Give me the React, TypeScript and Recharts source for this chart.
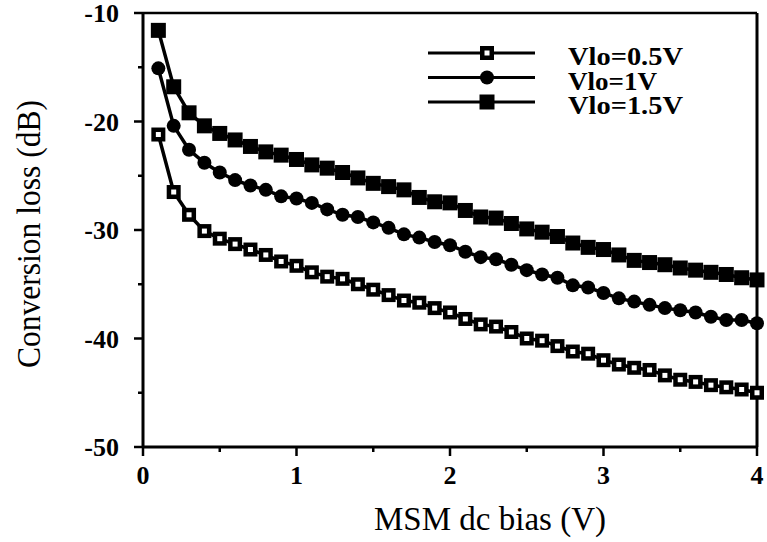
import React from 'react';
import { LineChart, Line, XAxis, YAxis, ReferenceLine, Legend } from 'recharts';

const biasV = [0.1, 0.2, 0.3, 0.4, 0.5, 0.6, 0.7, 0.8, 0.9, 1.0,
  1.1, 1.2, 1.3, 1.4, 1.5, 1.6, 1.7, 1.8, 1.9, 2.0,
  2.1, 2.2, 2.3, 2.4, 2.5, 2.6, 2.7, 2.8, 2.9, 3.0,
  3.1, 3.2, 3.3, 3.4, 3.5, 3.6, 3.7, 3.8, 3.9, 4.0];

const lossVlo05 = [-21.2, -26.5, -28.6, -30.1, -30.8, -31.3, -31.8, -32.3, -32.9, -33.3,
  -33.9, -34.3, -34.5, -35.0, -35.5, -36.0, -36.5, -36.7, -37.2, -37.6,
  -38.2, -38.7, -38.9, -39.4, -40.0, -40.2, -40.7, -41.2, -41.4, -42.0,
  -42.4, -42.7, -42.9, -43.4, -43.8, -44.0, -44.3, -44.5, -44.7, -45.0];

const lossVlo1 = [-15.1, -20.4, -22.6, -23.8, -24.7, -25.4, -25.9, -26.3, -26.9, -27.1,
  -27.5, -28.1, -28.6, -28.8, -29.3, -29.8, -30.4, -30.7, -31.1, -31.4,
  -32.0, -32.5, -32.7, -33.2, -33.7, -34.1, -34.4, -35.1, -35.3, -35.8,
  -36.3, -36.6, -36.9, -37.2, -37.4, -37.6, -38.0, -38.3, -38.3, -38.6];

const lossVlo15 = [-11.6, -16.8, -19.2, -20.4, -21.1, -21.7, -22.3, -22.8, -23.1, -23.5,
  -24.0, -24.3, -24.7, -25.2, -25.7, -26.0, -26.3, -27.0, -27.4, -27.5,
  -28.2, -28.8, -28.9, -29.4, -29.9, -30.2, -30.6, -31.2, -31.6, -31.8,
  -32.3, -32.8, -33.0, -33.2, -33.5, -33.7, -33.9, -34.1, -34.4, -34.6];

const seriesNames = ['Vlo=0.5V', 'Vlo=1V', 'Vlo=1.5V'];
const xTicks = [0, 0.5, 1, 1.5, 2, 2.5, 3, 3.5, 4];
const yTicks = [-50, -45, -40, -35, -30, -25, -20, -15, -10];

const data = biasV.map((v, i) => ({
  bias: v,
  a: lossVlo05[i],
  b: lossVlo1[i],
  c: lossVlo15[i],
}));

const FONT = '"Liberation Serif", "Times New Roman", serif';

const OpenSquare = (props: any) => {
  const { cx, cy } = props;
  if (cx == null || cy == null) return null;
  return (
    <g>
      <rect x={cx - 7} y={cy - 7} width={14} height={14} fill="#000" />
      <rect x={cx - 2.5} y={cy - 2.5} width={5} height={5} fill="#fff" />
    </g>
  );
};
const FilledSquare = (props: any) => {
  const { cx, cy } = props;
  if (cx == null || cy == null) return null;
  return <rect x={cx - 7.5} y={cy - 7.5} width={15} height={15} fill="#000" />;
};
const FilledCircle = (props: any) => {
  const { cx, cy } = props;
  if (cx == null || cy == null) return null;
  return <circle cx={cx} cy={cy} r={7} fill="#000" />;
};

const XTick = (props: any) => {
  const { x, y, payload } = props;
  const v = payload.value;
  const major = Number.isInteger(v);
  return (
    <g>
      <line x1={x} y1={y} x2={x} y2={y + (major ? 9 : 5)} stroke="#000" strokeWidth={2.5} />
      {major && (
        <text x={x} y={y + 37} textAnchor="middle" fontFamily={FONT} fontWeight="bold" fontSize={26} fill="#000">
          {v}
        </text>
      )}
    </g>
  );
};

const YTick = (props: any) => {
  const { x, y, payload } = props;
  const v = payload.value;
  const major = v % 10 === 0;
  return (
    <g>
      <line x1={x} y1={y} x2={x - (major ? 9 : 5)} y2={y} stroke="#000" strokeWidth={2.5} />
      {major && (
        <text x={x - 24} y={y + 9} textAnchor="end" fontFamily={FONT} fontWeight="bold" fontSize={26} fill="#000">
          {v}
        </text>
      )}
    </g>
  );
};

const YTitle = (props: any) => {
  const { viewBox } = props;
  const cy = viewBox.y + viewBox.height / 2 + 4;
  const bx = 40;
  return (
    <text x={bx} y={cy} transform={`rotate(-90, ${bx}, ${cy})`} textAnchor="middle" fontFamily={FONT} fontSize={34}
      textLength={268} lengthAdjust="spacingAndGlyphs" fill="#000">
      Conversion loss (dB)
    </text>
  );
};

const XTitle = (props: any) => {
  const { viewBox } = props;
  return (
    <text x={490} y={viewBox.y + 83} textAnchor="middle" fontFamily={FONT} fontSize={33}
      textLength={232} lengthAdjust="spacingAndGlyphs" fill="#000">
      MSM dc bias (V)
    </text>
  );
};

const markers = [OpenSquare, FilledCircle, FilledSquare];
const legendTextWidths = [115, 89, 115];

const LegendContent = () => (
  <svg width={270} height={85} style={{ display: 'block' }}>
    {seriesNames.map((name, i) => {
      const y = 13 + i * 24.5;
      const M = markers[i];
      return (
        <g key={name}>
          <line x1={3} y1={y} x2={110} y2={y} stroke="#000" strokeWidth={3} />
          <M cx={62} cy={y} />
          <text x={143} y={y + 12} fontFamily={FONT} fontWeight="bold" fontSize={25}
            textLength={legendTextWidths[i]} lengthAdjust="spacingAndGlyphs" fill="#000">
            {name}
          </text>
        </g>
      );
    })}
  </svg>
);

export default function App() {
  return (
    <div style={{ position: 'absolute', left: 0, top: 0, background: '#fff' }}>
      <LineChart width={767} height={542} data={data} margin={{ top: 13, right: 10, bottom: 0, left: 0 }}>
        <XAxis
          dataKey="bias"
          type="number"
          domain={[0, 4]}
          ticks={xTicks}
          height={95}
          tickSize={0}
          tickMargin={0}
          tickLine={false}
          tick={<XTick />}
          axisLine={{ stroke: '#000', strokeWidth: 3 }}
          label={<XTitle />}
        />
        <YAxis
          type="number"
          domain={[-50, -10]}
          ticks={yTicks}
          width={143}
          tickSize={0}
          tickMargin={0}
          tickLine={false}
          tick={<YTick />}
          axisLine={{ stroke: '#000', strokeWidth: 3 }}
          label={<YTitle />}
        />
        <ReferenceLine y={-10} stroke="#000" strokeWidth={2.5} />
        <ReferenceLine x={4} stroke="#000" strokeWidth={3} />
        <Legend
          layout="vertical"
          align="center"
          verticalAlign="middle"
          content={<LegendContent />}
          wrapperStyle={{ left: 425, top: 40, width: 270, height: 85 }}
        />
        <Line dataKey="a" name={seriesNames[0]} stroke="#000" strokeWidth={3.5} dot={<OpenSquare />} activeDot={false} isAnimationActive={false} />
        <Line dataKey="b" name={seriesNames[1]} stroke="#000" strokeWidth={3.5} dot={<FilledCircle />} activeDot={false} isAnimationActive={false} />
        <Line dataKey="c" name={seriesNames[2]} stroke="#000" strokeWidth={3.5} dot={<FilledSquare />} activeDot={false} isAnimationActive={false} />
      </LineChart>
    </div>
  );
}
